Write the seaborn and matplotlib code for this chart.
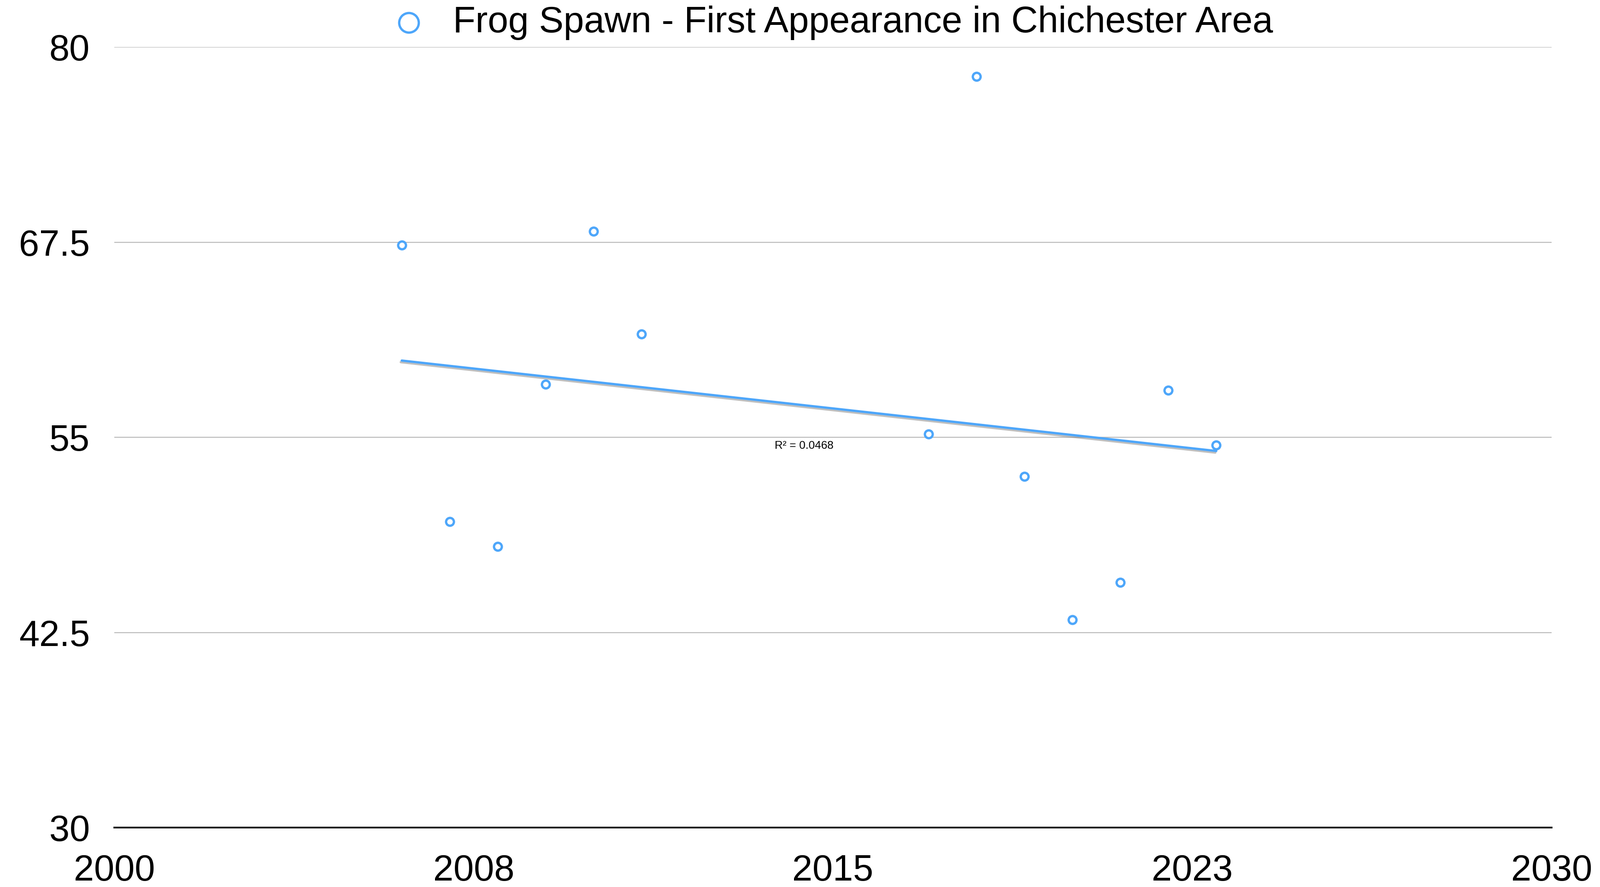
import numpy as np
import pandas as pd
import matplotlib
matplotlib.use("Agg")
import matplotlib.pyplot as plt
import matplotlib.patheffects as pe
import seaborn as sns

years = [2006, 2007, 2008, 2009, 2010, 2011, 2017, 2018, 2019, 2020, 2021, 2022, 2023]
first_day = [67.3, 49.6, 48.0, 58.4, 68.2, 61.6, 55.2, 78.1, 52.5, 43.3, 45.7, 58.0, 54.5]

x_ticks = [2000, 2007.5, 2015, 2022.5, 2030]
x_tick_labels = ["2000", "2008", "2015", "2023", "2030"]
y_ticks = [30, 42.5, 55, 67.5, 80]
y_tick_labels = ["30", "42.5", "55", "67.5", "80"]

series_name = "Frog Spawn - First Appearance in Chichester Area"
r2_text = "R\u00b2 = 0.0468"

blue = "#4DA6FA"

sns.set_style("white")
plt.rcParams["font.family"] = ["Liberation Sans", "DejaVu Sans"]
plt.rcParams["text.color"] = "black"

df = pd.DataFrame({"year": years, "day": first_day})

fig = plt.figure(figsize=(34.73, 19.25), dpi=100)
ax = fig.add_axes([0.0714, 0.067, 0.8981, 0.880])

# trend line with a soft shadow
sns.regplot(data=df, x="year", y="day", ax=ax, scatter=False, ci=None, truncate=True,
            line_kws=dict(color=blue, lw=3.6,
                          path_effects=[pe.SimpleLineShadow(offset=(-1.5, -2.5), shadow_color="gray", alpha=0.5),
                                        pe.Normal()]))

sns.scatterplot(data=df, x="year", y="day", ax=ax, s=150, color="white",
                edgecolor=blue, linewidth=3.6, label=series_name, zorder=5)

ax.set_xlim(2000, 2030)
ax.set_ylim(30, 80)
ax.set_xticks(x_ticks)
ax.set_xticklabels(x_tick_labels)
ax.set_yticks(y_ticks)
ax.set_yticklabels(y_tick_labels)
ax.tick_params(axis="both", length=0, labelsize=57, labelcolor="black")
ax.tick_params(axis="x", pad=41)
ax.tick_params(axis="y", pad=38)
ax.set_xlabel("")
ax.set_ylabel("")

ax.grid(axis="y", color="#BDBDBD", lw=1.6)
ax.grid(axis="x", visible=False)
for side in ["top", "left", "right"]:
    ax.spines[side].set_visible(False)
ax.spines["bottom"].set_color("#222222")
ax.spines["bottom"].set_linewidth(2.8)
ax.set_axisbelow(True)

ax.text(2014.4, 54.45, r2_text, fontsize=17.5, ha="center", va="center", color="black")

ax.legend(loc="center", bbox_to_anchor=(0.499, 1.031), frameon=False, fontsize=57.5,
          markerscale=2.5, handlelength=1.0, handletextpad=0.7, borderpad=0,
          labelcolor="black")

fig.savefig("out.png", dpi=100, facecolor="white")
